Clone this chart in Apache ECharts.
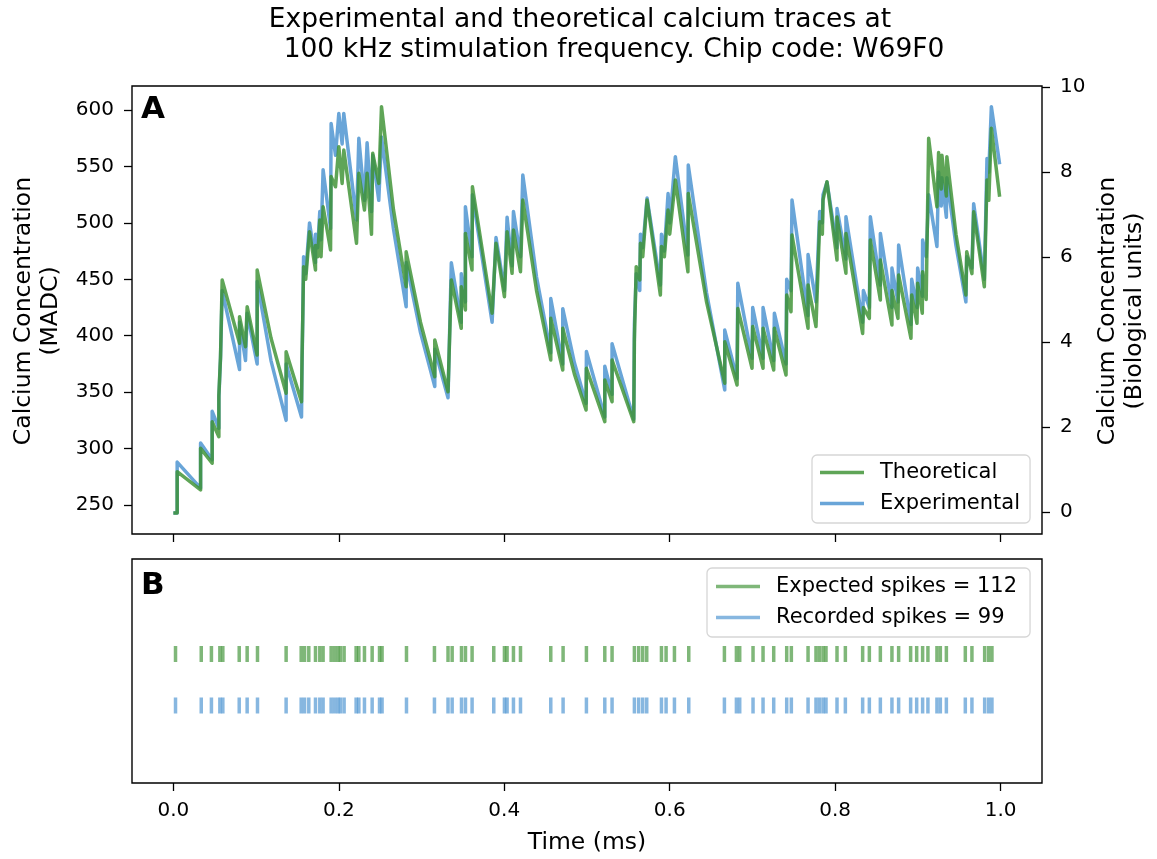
<!DOCTYPE html>
<html>
<head>
<meta charset="utf-8">
<script src="https://cdn.jsdelivr.net/npm/echarts@6/dist/echarts.min.js"></script>
<style>html,body{margin:0;padding:0;background:#fff;}#c{width:1157px;height:859px;}</style>
</head>
<body>
<div id="c"></div>
<script>
// ---------- DATA ----------
const titleLines = ["Experimental and theoretical calcium traces at", "100 kHz stimulation frequency. Chip code: W69F0"];
const xTicks = [0.0, 0.2, 0.4, 0.6, 0.8, 1.0];
const yLeftTicks = [250, 300, 350, 400, 450, 500, 550, 600];
const yRightTicks = [0, 2, 4, 6, 8, 10];

// Theoretical trace vertices [time (ms), MADC]
const theoretical = [
[0,243],[0.0046,243],[0.0046,279.5],[0.0329,263.3],[0.0329,300.2],[0.0469,287],[0.0469,323.8],[0.055,310.5],[0.055,347.5],[0.057,381.4],[0.059,449.4],
[0.08,393.3],[0.08,416.9],[0.0872,390.3],[0.0892,425.7],[0.1013,382.9],[0.1013,458.2],[0.118,398],[0.1363,349],[0.1363,385.9],[0.1549,341.5],[0.1555,380],[0.1565,420],
[0.1574,461.2],[0.16,450],[0.1646,492.2],[0.1718,458.2],[0.1718,480],[0.1745,470],[0.177,502.5],[0.1785,470],[0.181,514.3],[0.19,476],[0.1907,541],
[0.196,532],[0.2,567.5],[0.204,535],[0.206,564.6],[0.2214,481.9],[0.2242,543.9],[0.231,511.4],[0.2342,543.9],[0.2395,489.9],[0.241,561.6],[0.2483,535],
[0.2516,603],[0.266,512],[0.2814,443.4],[0.2814,474.4],[0.2987,412],[0.316,363.7],[0.316,396.2],[0.332,350.4],[0.336,449.4],[0.348,406.6],[0.348,443.4],[0.353,422.8],[0.353,490.7],
[0.361,458.2],[0.3615,532],[0.3853,419.9],[0.39,481.9],[0.4002,434.6],[0.4034,492.2],[0.4094,455.3],[0.4111,493.7],[0.4196,456.7],[0.4224,520.3],[0.439,440],
[0.4562,378.5],[0.4562,415.4],[0.4707,369.6],[0.4707,406.6],[0.4848,366],[0.4989,334.2],[0.4993,371.1],[0.5215,323.8],[0.5215,360.8],[0.5303,341.5],[0.5303,378.5],
[0.5565,323.8],[0.5573,396.2],[0.5595,461.2],[0.5638,449.4],[0.5646,481.9],[0.5674,470],[0.5726,520.3],[0.5887,436.1],[0.59,479],[0.5935,470],[0.598,511.4],
[0.6,490],[0.6068,538],[0.622,456.7],[0.6224,526.1],[0.6445,430],[0.6665,357.9],[0.6665,394.7],[0.6814,356.3],[0.6823,424.2],[0.6995,371.1],[0.7003,408.1],[0.7128,371.1],
[0.7128,406.6],[0.7257,369.6],[0.7265,406.6],[0.7406,365.2],[0.7414,436.1],[0.7466,421.3],[0.7478,489.2],[0.7672,406.6],[0.7672,445],[0.7768,408.1],
[0.7813,501],[0.7845,490],[0.7853,520.3],[0.7901,536.5],[0.8022,467.1],[0.8022,505.3],[0.813,455.3],[0.813,490.7],[0.8332,402],[0.8341,425],[0.8413,415.4],
[0.8425,484.8],[0.8546,431.7],[0.8546,467.1],[0.8686,409.5],[0.8686,440],[0.8759,415.4],[0.8767,453.9],[0.8916,397.7],[0.8925,436.1],[0.8989,411],
[0.8997,446.5],[0.9053,419.9],[0.9057,456.7],[0.91,432.2],[0.913,574.9],[0.923,514.3],[0.925,562.3],[0.9282,530],[0.929,560],[0.9344,523.8],[0.935,558.6],
[0.946,490],[0.958,436.1],[0.959,474.4],[0.9653,455],[0.9674,509.9],[0.9803,443.4],[0.9835,538],[0.9857,520],[0.9888,583.8],[0.9988,523.2]
];

// Experimental trace vertices [time (ms), MADC]
const experimental = [
[0,243],[0.0046,243],[0.0046,288],[0.0329,265],[0.0329,305],[0.0469,290],[0.0469,333],[0.055,318],[0.055,345],[0.057,380],[0.059,440],
[0.08,370],[0.08,412],[0.0872,378],[0.0892,420],[0.1013,375],[0.1013,448],[0.118,378],[0.1363,325],[0.1363,375],[0.1549,328],[0.1555,370],[0.1565,420],
[0.1574,470],[0.16,455],[0.1646,500],[0.1718,465],[0.1718,490],[0.1745,478],[0.177,510],[0.1785,485],[0.181,547],[0.19,495],[0.1907,588],
[0.196,560],[0.2,597],[0.204,570],[0.206,597],[0.2214,502.5],[0.2242,574.9],[0.231,520],[0.2342,571],[0.2395,510],[0.241,560],[0.2483,520],
[0.2516,576],[0.266,495],[0.2814,425.7],[0.2814,465],[0.2987,403],[0.316,355],[0.316,388],[0.332,345],[0.336,464.7],[0.348,412],[0.348,455],[0.353,430],[0.353,514.3],
[0.361,470],[0.3615,525],[0.3853,412],[0.39,487],[0.4002,440],[0.4034,505],[0.4094,462],[0.4111,510],[0.4196,470],[0.4224,542.4],[0.439,452],
[0.4562,385],[0.4562,433],[0.4707,375],[0.4707,424],[0.4848,376],[0.4989,340],[0.4993,386],[0.5215,328],[0.5215,373],[0.5303,348],[0.5303,393],
[0.5565,326],[0.5573,410],[0.5595,455],[0.5638,440],[0.5646,490],[0.5674,478],[0.5726,522],[0.5887,445],[0.59,490],[0.5935,475],[0.598,526],
[0.6,500],[0.6068,558.6],[0.622,471.5],[0.6224,551.3],[0.6445,438],[0.6665,352],[0.6665,405],[0.6814,362],[0.6823,446.5],[0.6995,380],[0.7003,425],[0.7128,380],
[0.7128,425],[0.7257,378],[0.7265,420],[0.7406,375],[0.7414,450],[0.7466,440],[0.7478,520.3],[0.7672,418],[0.7672,472],[0.7768,430],
[0.7813,510],[0.7845,500],[0.7853,525],[0.7901,536],[0.8022,478],[0.8022,512.8],[0.813,468],[0.813,505.4],[0.8332,412],[0.8341,440],[0.8413,425],
[0.8425,505.4],[0.8546,445],[0.8546,490.7],[0.8686,425],[0.8686,460],[0.8759,430],[0.8767,480.4],[0.8916,410],[0.8925,450],[0.8989,425],
[0.8997,460],[0.9053,435],[0.9057,484.8],[0.91,470],[0.913,525],[0.923,479],[0.925,545],[0.9282,515],[0.929,540],[0.9344,505],[0.935,540],
[0.946,480],[0.958,430],[0.959,470],[0.9653,460],[0.9674,517],[0.9803,450],[0.9835,557],[0.9857,545],[0.9888,603],[0.9988,552]
];

// Spike times (ms)
const spikesExpected = [0.0026,0.0337,0.046,0.0562,0.0598,0.0796,0.0892,0.1017,0.1363,0.1545,0.1586,0.1637,0.1718,0.177,0.181,0.1907,0.1948,0.1988,0.202,0.2064,
0.2209,0.2242,0.231,0.2403,0.2492,0.2523,0.2818,0.3156,0.332,0.337,0.3483,0.3531,0.3611,0.3873,0.4002,0.4034,0.4111,0.4196,0.4562,0.4711,0.4993,0.5215,0.5303,
0.5573,0.5625,0.5674,0.5722,0.59,0.5956,0.6057,0.623,0.6661,0.6806,0.6846,0.7007,0.7128,0.7257,0.7414,0.747,0.7672,0.7768,0.7809,0.7853,0.7889,0.8022,0.8123,
0.8332,0.8413,0.8546,0.8686,0.8767,0.8912,0.8985,0.9057,0.9121,0.923,0.9271,0.9344,0.9573,0.9653,0.9807,0.9855,0.9895];
const spikesRecorded = [0.0026,0.0337,0.046,0.0562,0.0598,0.0796,0.0892,0.1017,0.1363,0.1545,0.1586,0.1637,0.1718,0.177,0.181,0.1907,0.1948,0.1988,0.202,0.2064,
0.2209,0.2242,0.231,0.2403,0.2492,0.2523,0.2818,0.3156,0.332,0.337,0.3483,0.3531,0.3611,0.3873,0.4002,0.4034,0.4111,0.4196,0.4562,0.4711,0.4993,0.5215,0.5303,
0.5573,0.5625,0.5674,0.5722,0.59,0.5956,0.6057,0.623,0.6661,0.6806,0.6846,0.7007,0.7128,0.7257,0.7414,0.747,0.7672,0.7768,0.7809,0.7853,0.7889,0.8022,0.8123,
0.8332,0.8413,0.8546,0.8686,0.8767,0.8912,0.8985,0.9057,0.9121,0.923,0.9271,0.9344,0.9573,0.9653,0.9807,0.9855,0.9895];
const nExpected = 112, nRecorded = 99;

// ---------- STYLE ----------
const FONT = 'DejaVu Sans';
const GREEN = 'rgba(60,145,50,0.82)';
const BLUE = 'rgba(72,145,208,0.82)';
const ROW_EXP = 0.576, ROW_REC = 0.346;
const TICK_FS = 20, LAB_FS = 23.5, LEG_FS = 21, TITLE_FS = 26.5;

const chart = echarts.init(document.getElementById('c'), null, {renderer: 'canvas'});

function xAx(gi, showLabel) {
  return {
    type: 'value', gridIndex: gi, min: -0.05, max: 1.05,
    axisLine: {show: false, onZero: false},
    splitLine: {show: false},
    axisTick: {show: true, length: 8, lineStyle: {color: '#000', width: 1.3}, customValues: xTicks},
    axisLabel: {show: showLabel, customValues: xTicks, formatter: v => v.toFixed(1), fontSize: TICK_FS, fontFamily: FONT, color: '#000', margin: 18}
  };
}

const legendCommon = {
  orient: 'vertical', icon: 'rect', itemWidth: 44, itemHeight: 3.5, itemGap: 10,
  borderColor: '#d6d6d6', borderWidth: 1.3, borderRadius: 5, backgroundColor: 'rgba(255,255,255,0.8)',
  textStyle: {fontSize: LEG_FS, fontFamily: FONT, color: '#000', padding: [0, 0, 0, 11]},
  selectedMode: false
};

const option = {
  animation: false,
  backgroundColor: '#fff',
  grid: [
    {left: 132, top: 86, width: 910, height: 448, show: true, borderColor: '#000', borderWidth: 1.4},
    {left: 132, top: 559, width: 910, height: 224, show: true, borderColor: '#000', borderWidth: 1.4}
  ],
  xAxis: [xAx(0, false), xAx(1, true)],
  yAxis: [
    {type: 'value', gridIndex: 0, position: 'left', min: 224.3, max: 621.3,
     axisLine: {show: false, onZero: false}, splitLine: {show: false},
     axisTick: {show: true, length: 8, lineStyle: {color: '#000', width: 1.3}, customValues: yLeftTicks},
     axisLabel: {customValues: yLeftTicks, fontSize: TICK_FS, fontFamily: FONT, color: '#000', margin: 18}},
    {type: 'value', gridIndex: 0, position: 'right', min: -0.52, max: 10.02,
     axisLine: {show: false, onZero: false}, splitLine: {show: false},
     axisTick: {show: true, length: 8, lineStyle: {color: '#000', width: 1.3}, customValues: yRightTicks},
     axisLabel: {customValues: yRightTicks, fontSize: TICK_FS, fontFamily: FONT, color: '#000', margin: 18}},
    {type: 'value', gridIndex: 1, min: 0, max: 1, show: false}
  ],
  legend: [
    Object.assign({}, legendCommon, {data: ['Theoretical', 'Experimental'], left: 812, top: 455, padding: [7, 10, 9, 8]}),
    Object.assign({}, legendCommon, {data: ['Expected spikes = ' + nExpected, 'Recorded spikes = ' + nRecorded], left: 707, top: 568, padding: [8, 13, 9, 9]})
  ],
  series: [
    {name: 'Experimental', type: 'line', xAxisIndex: 0, yAxisIndex: 0, data: experimental, showSymbol: false, symbol: 'none',
     lineStyle: {color: BLUE, width: 3.5, join: 'round'}, itemStyle: {color: BLUE}, z: 2},
    {name: 'Theoretical', type: 'line', xAxisIndex: 0, yAxisIndex: 0, data: theoretical, showSymbol: false, symbol: 'none',
     lineStyle: {color: GREEN, width: 3.5, join: 'round'}, itemStyle: {color: GREEN}, z: 3},
    {name: 'Expected spikes = ' + nExpected, type: 'scatter', xAxisIndex: 1, yAxisIndex: 2,
     data: spikesExpected.map(t => [t, ROW_EXP]), symbol: 'rect', symbolSize: [3.5, 16], itemStyle: {color: GREEN}},
    {name: 'Recorded spikes = ' + nRecorded, type: 'scatter', xAxisIndex: 1, yAxisIndex: 2,
     data: spikesRecorded.map(t => [t, ROW_REC]), symbol: 'rect', symbolSize: [3.5, 16], itemStyle: {color: BLUE}}
  ],
  graphic: [
    {type: 'text', x: 580, y: 20, style: {text: titleLines[0], font: TITLE_FS + 'px "DejaVu Sans"', fill: '#000', textAlign: 'center', textVerticalAlign: 'middle'}},
    {type: 'text', x: 614, y: 50, style: {text: titleLines[1], font: TITLE_FS + 'px "DejaVu Sans"', fill: '#000', textAlign: 'center', textVerticalAlign: 'middle'}},
    {type: 'text', x: 141, y: 110, style: {text: 'A', font: 'bold 31px "DejaVu Sans"', fill: '#000', textAlign: 'left', textVerticalAlign: 'middle'}},
    {type: 'text', x: 141, y: 586, style: {text: 'B', font: 'bold 31px "DejaVu Sans"', fill: '#000', textAlign: 'left', textVerticalAlign: 'middle'}},
    {type: 'text', x: 24, y: 311, rotation: Math.PI / 2, style: {text: 'Calcium Concentration', font: LAB_FS + 'px "DejaVu Sans"', fill: '#000', textAlign: 'center', textVerticalAlign: 'middle'}},
    {type: 'text', x: 51, y: 311, rotation: Math.PI / 2, style: {text: '(MADC)', font: LAB_FS + 'px "DejaVu Sans"', fill: '#000', textAlign: 'center', textVerticalAlign: 'middle'}},
    {type: 'text', x: 1108, y: 311, rotation: Math.PI / 2, style: {text: 'Calcium Concentration', font: LAB_FS + 'px "DejaVu Sans"', fill: '#000', textAlign: 'center', textVerticalAlign: 'middle'}},
    {type: 'text', x: 1135, y: 311, rotation: Math.PI / 2, style: {text: '(Biological units)', font: LAB_FS + 'px "DejaVu Sans"', fill: '#000', textAlign: 'center', textVerticalAlign: 'middle'}},
    {type: 'text', x: 587, y: 843, style: {text: 'Time (ms)', font: LAB_FS + 'px "DejaVu Sans"', fill: '#000', textAlign: 'center', textVerticalAlign: 'middle'}}
  ]
};
chart.setOption(option);
</script>
</body>
</html>
